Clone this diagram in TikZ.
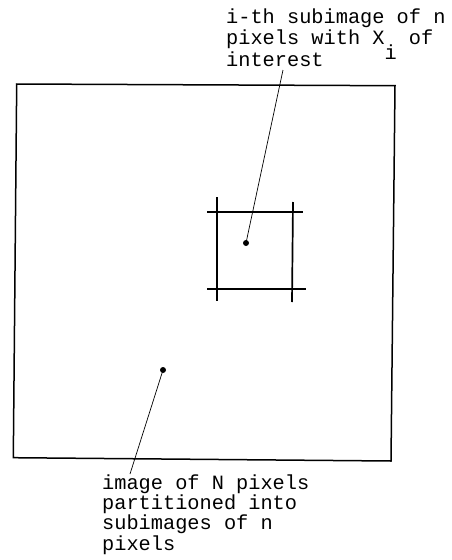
\documentclass[tikz,border=0pt]{standalone}
\usepackage{fontspec}
\setmonofont{Liberation Mono}
\usetikzlibrary{positioning}

\begin{document}
\begin{tikzpicture}[x=1pt, y=-1pt]
    \useasboundingbox (0,0) rectangle (452,560);

    % Draw image outline
    \coordinate (tl) at (16.7,84);
    \coordinate (tr) at (395,85.7);
    \coordinate (br) at (391,461);
    \coordinate (bl) at (13.3,457.7);
    \draw[line width=1.5pt] (tl) -- (tr) -- (br) -- (bl) -- cycle;

    % Draw subimage grid
    \coordinate (v1a) at (217,197);
    \coordinate (v1b) at (217,301);
    \coordinate (v2a) at (293,202);
    \coordinate (v2b) at (292,302);
    \coordinate (h1a) at (207,212);
    \coordinate (h1b) at (303,212);
    \coordinate (h2a) at (207,289);
    \coordinate (h2b) at (306,289);
    \draw[line width=1.7pt] (v1a) -- (v1b);
    \draw[line width=1.7pt] (v2a) -- (v2b);
    \draw[line width=1.7pt] (h1a) -- (h1b);
    \draw[line width=1.7pt] (h2a) -- (h2b);

    % Draw dots
    \node[circle, fill, inner sep=0pt, minimum size=6pt] (xi) at (246,243) {};
    \node[circle, fill, inner sep=0pt, minimum size=6pt] (pix) at (163,370) {};

    % Labels
    \node[anchor=base west, inner sep=0pt, align=left, font=\ttfamily\fontsize{20.3}{21.5}\selectfont] (toplab) at (226,66)
        {i-th subimage of n\\pixels with X\smash{\raisebox{-0.75em}{i}} of\\interest};
    \node[anchor=base west, inner sep=0pt, align=left, font=\ttfamily\fontsize{20.3}{20.3}\selectfont] (botlab) at (102,550)
        {image of N pixels\\partitioned into\\subimages of n\\pixels};

    % Draw leaders
    \coordinate (t1) at (283,70);
    \coordinate (t2) at (130,474);
    \draw[line width=0.7pt] (xi.center) -- (t1);
    \draw[line width=0.7pt] (pix.center) -- (t2);
\end{tikzpicture}
\end{document}
